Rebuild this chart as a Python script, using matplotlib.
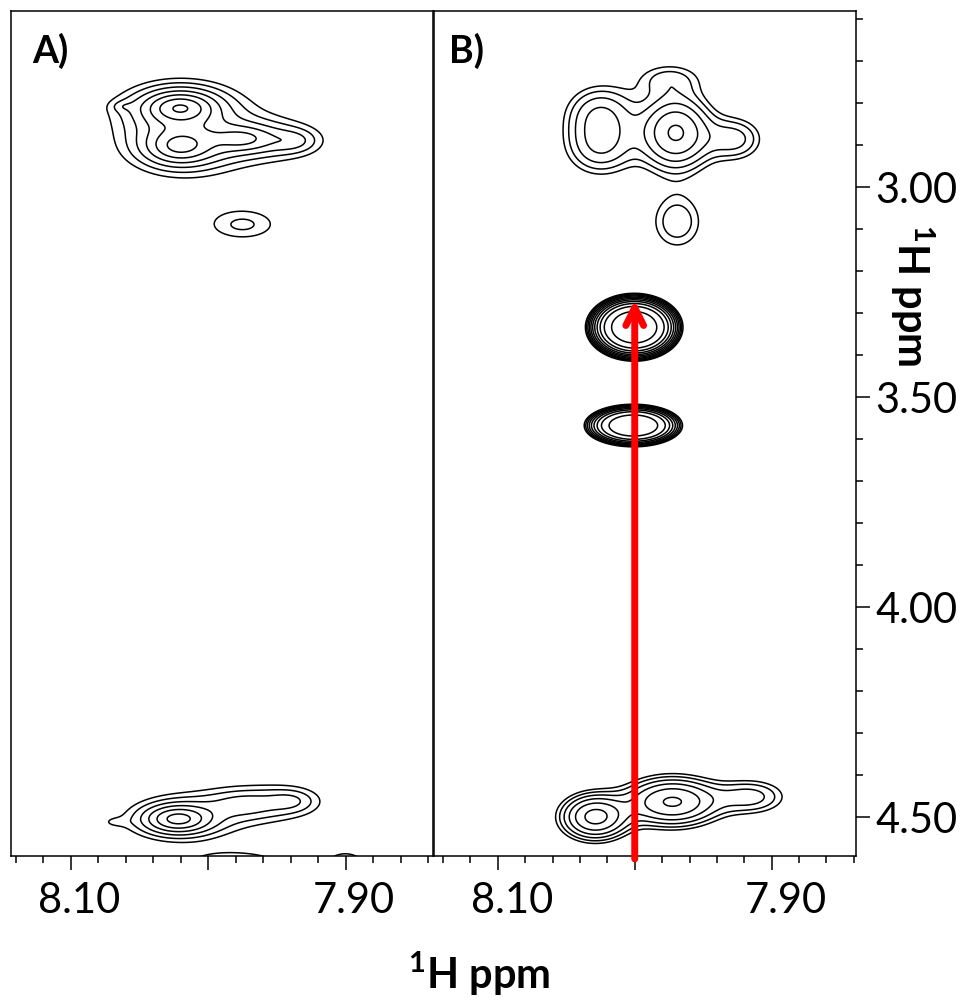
import numpy as np
import matplotlib
matplotlib.use("Agg")
import matplotlib.pyplot as plt
from matplotlib.ticker import MultipleLocator, FixedLocator
from matplotlib.transforms import ScaledTranslation

plt.rcParams['font.family'] = ['Lato', 'DejaVu Sans']
plt.rcParams['mathtext.fontset'] = 'custom'
plt.rcParams['mathtext.rm'] = 'Lato'
plt.rcParams['mathtext.bf'] = 'Lato:bold'

# cross peaks: centre (ppm), height, widths (ppm), tail shape
# shape p: 1.5 = lorentzian-like tails, large = gaussian
a_x = [8.0205, 8.0205, 7.975, 7.938, 8.062, 7.975, 8.022, 7.974, 7.940, 8.068, 7.980, 7.900]
a_y = [2.812, 2.902, 2.885, 2.890, 2.808, 3.090, 4.505, 4.470, 4.462, 4.512, 4.615, 4.612]
a_h = [7.3, 5.5, 3.3, 1.6, 0.6, 1.42, 6.0, 1.8, 1.6, 0.6, 1.8, 1.7]
a_wx = [0.021, 0.0215, 0.022, 0.018, 0.008, 0.028, 0.020, 0.027, 0.020, 0.008, 0.035, 0.015]
a_wy = [0.0322, 0.037, 0.029, 0.029, 0.012, 0.041, 0.028, 0.035, 0.030, 0.010, 0.030, 0.030]
a_p = [1.5, 1.5, 1.5, 1.5, 1.5, 1.5, 1.5, 1.5, 1.5, 1.5, 20, 20]

b_x = [8.025, 8.025, 7.970, 7.927, 7.975, 7.969, 8.029, 7.9726, 7.915]
b_y = [2.825, 2.905, 2.871, 2.886, 2.742, 3.083, 4.500, 4.464, 4.452]
b_h = [2.5, 2.5, 5.6, 2.2, 1.4, 1.83, 6.0, 5.6, 2.2]
b_wx = [0.024, 0.024, 0.023, 0.020, 0.025, 0.0197, 0.021, 0.030, 0.025]
b_wy = [0.065, 0.065, 0.078, 0.050, 0.040, 0.070, 0.046, 0.050, 0.040]
b_p = [20, 20, 20, 20, 20, 20, 20, 20, 20]

# two strong, flat-topped peaks (only in B)
m_x = [8.0004, 8.001]
m_y = [3.334, 3.568]
m_h = [34.0, 17.5]
m_wx = [0.026, 0.0276]
m_wy = [0.059, 0.039]

levels = [1.4 ** k for k in range(16)]

xs = np.linspace(7.82, 8.16, 700)
ys = np.linspace(2.55, 4.72, 1100)
X, Y = np.meshgrid(xs, ys)


def spectrum(px, py, ph, wx, wy, shape):
    Z = np.zeros_like(X)
    for i in range(len(px)):
        r2 = ((X - px[i]) / wx[i]) ** 2 + ((Y - py[i]) / wy[i]) ** 2
        Z += ph[i] * (1 + r2 / shape[i]) ** (-shape[i])
    return Z


def flat_peaks(px, py, ph, wx, wy):
    Z = np.zeros_like(X)
    for i in range(len(px)):
        r2 = ((X - px[i]) / wx[i]) ** 2 + ((Y - py[i]) / wy[i]) ** 2
        Z += ph[i] * np.exp(-r2 ** 2)
    return Z


fig = plt.figure(figsize=(9.68, 10.03), dpi=100)
ax1 = fig.add_axes([11 / 968, 146 / 1003, 422 / 968, 845 / 1003])
ax2 = fig.add_axes([434 / 968, 146 / 1003, 422 / 968, 845 / 1003])

za = spectrum(a_x, a_y, a_h, a_wx, a_wy, a_p)
zb = spectrum(b_x, b_y, b_h, b_wx, b_wy, b_p) + flat_peaks(m_x, m_y, m_h, m_wx, m_wy)
ax1.contour(X, Y, za, levels=levels, colors='k', linewidths=1.1)
ax2.contour(X, Y, zb, levels=levels, colors='k', linewidths=1.1)

ax1.set_xlim(8.1436, 7.8365)
ax2.set_xlim(8.1466, 7.8384)
for ax in (ax1, ax2):
    ax.set_ylim(4.593, 2.581)
    for s in ax.spines.values():
        s.set_linewidth(1.1)
    ax.xaxis.set_major_locator(FixedLocator([8.10, 8.00, 7.90]))
    ax.set_xticklabels(['8.10', '', '7.90'], fontsize=30)
    ax.xaxis.set_minor_locator(MultipleLocator(0.02))
    ax.tick_params(axis='x', which='major', length=10, width=1.1, pad=8)
    ax.tick_params(axis='x', which='minor', length=5, width=1.1)

ax1.set_yticks([])
ax2.yaxis.tick_right()
ax2.yaxis.set_major_locator(FixedLocator([3.0, 3.5, 4.0, 4.5]))
ax2.set_yticklabels(['3.00', '3.50', '4.00', '4.50'], fontsize=30)
ax2.yaxis.set_minor_locator(MultipleLocator(0.1))
ax2.tick_params(axis='y', which='major', length=10, width=1.1, pad=4)
ax2.tick_params(axis='y', which='minor', length=5, width=1.1)

# tick labels sit a little right of their ticks in the original
for ax, dx in ((ax1, 8), (ax2, 14)):
    off = ScaledTranslation(dx / 100, 0, fig.dpi_scale_trans)
    for lbl in ax.get_xticklabels():
        lbl.set_transform(lbl.get_transform() + off)

ax1.text(0.05, 0.94, 'A)', transform=ax1.transAxes, fontsize=27,
         fontweight='bold', va='baseline')
ax2.text(0.035, 0.94, 'B)', transform=ax2.transAxes, fontsize=27,
         fontweight='bold', va='baseline')

# arrow at 8.00 ppm
ax2.annotate('', xy=(8.00, 3.269), xytext=(8.00, 4.60),
             arrowprops=dict(arrowstyle='->', color='red', lw=5,
                             mutation_scale=32, shrinkA=0, shrinkB=0),
             annotation_clip=False)

unit = r'$\mathbf{^{1}}$H ppm'
fig.text(479 / 968, 1 - 974 / 1003, unit, fontsize=30, fontweight='bold',
         ha='center', va='center')
fig.text(912 / 968, 1 - 295 / 1003, unit, fontsize=30, fontweight='bold',
         ha='center', va='center', rotation=-90)

fig.savefig('out.png', dpi=100)
